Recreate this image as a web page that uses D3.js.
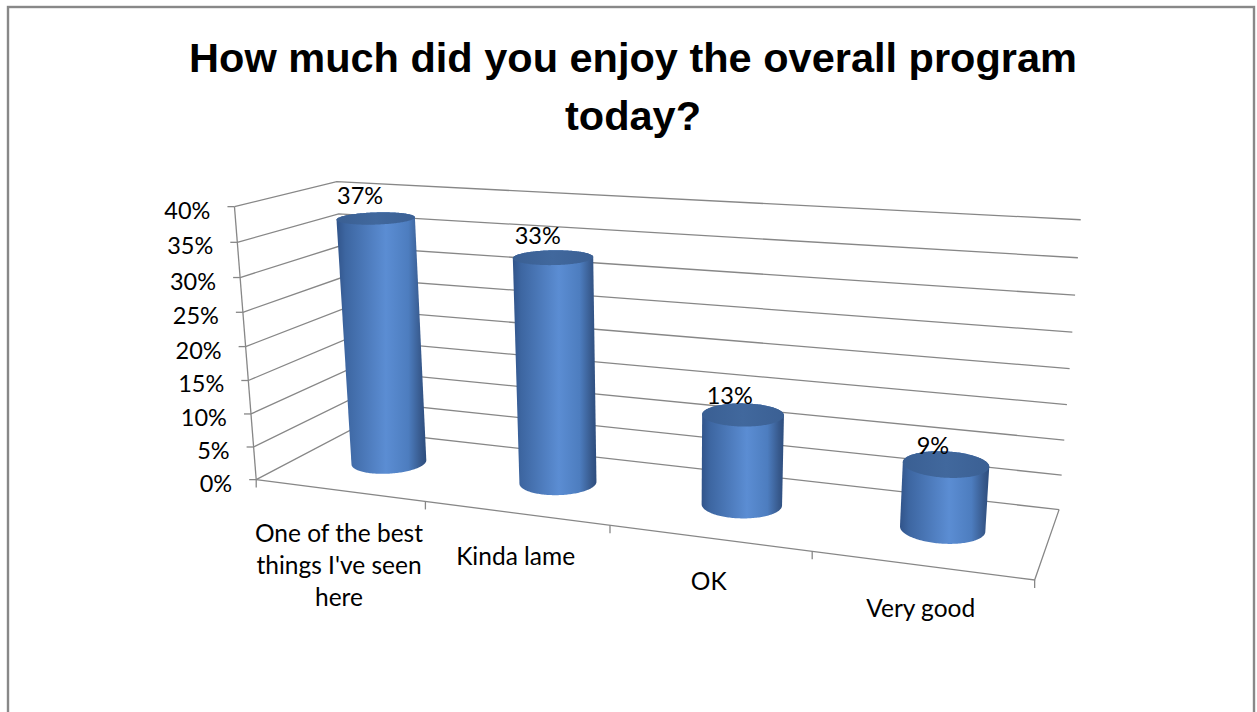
<!DOCTYPE html>
<html>
<head>
<meta charset="utf-8">
<script src="https://cdn.jsdelivr.net/npm/d3@7"></script>
<style>
  html, body { margin: 0; padding: 0; background: #fff; }
  svg { display: block; }
</style>
</head>
<body>
<script>
// ---- data ----
const categories = ["One of the best things I've seen here", "Kinda lame", "OK", "Very good"];
const categoryLines = [["One of the best", "things I've seen", "here"], ["Kinda lame"], ["OK"], ["Very good"]];
const values = [0.37, 0.33, 0.13, 0.09];
const valueLabels = ["37%", "33%", "13%", "9%"];
const yTicks = [0, 0.05, 0.10, 0.15, 0.20, 0.25, 0.30, 0.35, 0.40];
const yTickLabels = ["0%", "5%", "10%", "15%", "20%", "25%", "30%", "35%", "40%"];
const titleLines = ["How much did you enjoy the overall program", "today?"];

// ---- page ----
const W = 1257, H = 712;
const svg = d3.select("body").append("svg").attr("width", W).attr("height", H);

// chart frame
svg.append("rect").attr("x", 8).attr("y", 7).attr("width", 1246).attr("height", 720)
  .attr("fill", "#fff").attr("stroke", "#888").attr("stroke-width", 2.4);

// ---- world scales (unit box: x = categories, y = value, z = depth) ----
const x = d3.scaleBand().domain(categories).range([0, 1]);
const y = d3.scaleLinear().domain([0, 0.4]).range([0, 1]);

// ---- perspective camera, solved from reference points of the plot box ----
const camPts = [
  [[0, 0, 0], [255, 480]], [[0, 1, 0], [236, 206]],
  [[0, 0, 1], [353, 429]], [[0, 1, 1], [335, 183]],
  [[1, 0, 1], [1059, 509]], [[1, 1, 1], [1081, 220]],
  [[1, 0, 0], [1034, 580]], [[0.25, 0, 0], [426, 502]],
  [[0.5, 0, 0], [610, 526]], [[0.75, 0, 0], [812, 552]],
  [[1, 0.5, 1], [1070, 368]], [[0, 0.5, 0], [245.5, 345]]
];
function solveLinear(A, b) {
  const n = b.length, M = A.map((r, i) => r.concat([b[i]]));
  for (let c = 0; c < n; c++) {
    let p = c;
    for (let r = c + 1; r < n; r++) if (Math.abs(M[r][c]) > Math.abs(M[p][c])) p = r;
    [M[c], M[p]] = [M[p], M[c]];
    for (let r = 0; r < n; r++) {
      if (r === c) continue;
      const f = M[r][c] / M[c][c];
      for (let k = c; k <= n; k++) M[r][k] -= f * M[c][k];
    }
  }
  return M.map((r, i) => r[n] / r[i]);
}
const cam = (() => {
  const rows = [], rhs = [];
  camPts.forEach(([[X, Y, Z], [u, v]]) => {
    rows.push([X, Y, Z, 1, 0, 0, 0, 0, -u * X, -u * Y, -u * Z]); rhs.push(u);
    rows.push([0, 0, 0, 0, X, Y, Z, 1, -v * X, -v * Y, -v * Z]); rhs.push(v);
  });
  const AtA = d3.range(11).map(i => d3.range(11).map(j => d3.sum(rows, r => r[i] * r[j])));
  const Atb = d3.range(11).map(i => d3.sum(rows, (r, k) => r[i] * rhs[k]));
  return solveLinear(AtA, Atb);
})();
function proj(X, Y, Z) {
  const w = cam[8] * X + cam[9] * Y + cam[10] * Z + 1;
  return [(cam[0] * X + cam[1] * Y + cam[2] * Z + cam[3]) / w,
          (cam[4] * X + cam[5] * Y + cam[6] * Z + cam[7]) / w];
}
const line = d3.line();
const gridColor = "#878787";

// ---- title ----
svg.append("text")
  .attr("x", 633).attr("y", 72)
  .attr("text-anchor", "middle")
  .style("font-family", "'Liberation Sans', Arial, sans-serif")
  .style("font-weight", "bold").style("font-size", "41.5px").attr("fill", "#000")
  .selectAll("tspan").data(titleLines).join("tspan")
  .attr("x", 633).attr("dy", (d, i) => i ? 58 : 0).text(d => d);

// ---- walls: gridlines on side and back walls ----
const grid = svg.append("g").attr("fill", "none").attr("stroke", gridColor).attr("stroke-width", 1.3);
yTicks.forEach(t => {
  const Y = y(t);
  grid.append("path").attr("d", line([proj(0, Y, 0), proj(0, Y, 1), proj(1, Y, 1)]));
});
// floor outline
grid.append("path").attr("d", line([proj(0, 0, 0), proj(1, 0, 0), proj(1, 0, 1)]));
// value axis line
grid.append("path").attr("d", line([proj(0, 0, 0), proj(0, 1, 0)]));
// value axis ticks
yTicks.forEach(t => {
  const p = proj(0, y(t), 0);
  grid.append("path").attr("d", line([[p[0] - 7, p[1]], p]));
});
// category axis ticks at band edges
d3.range(categories.length + 1).forEach(i => {
  const p = proj(i / categories.length, 0, 0);
  grid.append("path").attr("d", line([p, [p[0], p[1] + 8]]));
});

const labelFont = "Lato, 'Open Sans', sans-serif";
// value axis labels
svg.append("g").selectAll("text").data(yTicks).join("text")
  .attr("x", t => proj(0, y(t), 0)[0] - 24)
  .attr("y", t => proj(0, y(t), 0)[1] + 3)
  .attr("text-anchor", "end").attr("dominant-baseline", "central")
  .style("font-family", labelFont).style("font-size", "23.5px").attr("fill", "#000")
  .text((t, i) => yTickLabels[i]);

// ---- cylinders ----
const defs = svg.append("defs");
const body = defs.append("linearGradient").attr("id", "cylBody").attr("x1", 0).attr("x2", 1).attr("y1", 0).attr("y2", 0);
[[0, "#31548a"], [0.1, "#3d66a1"], [0.55, "#5b8dd3"], [0.8, "#4d7dbf"], [0.94, "#37598c"], [1, "#2d4d7e"]]
  .forEach(([o, c]) => body.append("stop").attr("offset", o).attr("stop-color", c));
const topGrad = defs.append("linearGradient").attr("id", "cylTop").attr("x1", 0).attr("x2", 1).attr("y1", 0).attr("y2", 0);
[[0, "#3a5f93"], [0.5, "#41689d"], [1, "#3b6094"]]
  .forEach(([o, c]) => topGrad.append("stop").attr("offset", o).attr("stop-color", c));

const depth = 0.52;              // column row sits about midway in depth
const rX = x.bandwidth() * 0.2;  // radius along category axis
const rZ = 0.21;                 // radius along depth axis
const angles = d3.range(0, 2 * Math.PI, Math.PI / 90);

const cyl = svg.append("g");
categories.forEach((c, i) => {
  const cx = x(c) + x.bandwidth() / 2 + 0.002;
  const Y = y(values[i]);
  const bottom = angles.map(a => proj(cx + rX * Math.cos(a), 0, depth + rZ * Math.sin(a)));
  const top = angles.map(a => proj(cx + rX * Math.cos(a), Y, depth + rZ * Math.sin(a)));
  const hull = d3.polygonHull(bottom.concat(top));
  cyl.append("path").attr("d", line(hull) + "Z").attr("fill", "url(#cylBody)");
  cyl.append("path").attr("d", line(top) + "Z").attr("fill", "url(#cylTop)");

  // data label above the column top
  const tc = proj(cx, Y, depth);
  const v = values[i] * 100;
  svg.append("text")
    .attr("x", tc[0] - (12 + 0.1 * v))
    .attr("y", tc[1] - (8.7 + 0.14 * v))
    .attr("text-anchor", "middle")
    .style("font-family", labelFont).style("font-size", "23.5px").attr("fill", "#000")
    .text(valueLabels[i]);
});

// ---- category labels ----
categories.forEach((c, i) => {
  const p = proj(x(c) + x.bandwidth() / 2, 0, 0);
  svg.append("text")
    .attr("text-anchor", "middle")
    .style("font-family", labelFont).style("font-size", "24.5px").attr("fill", "#000")
    .selectAll("tspan").data(categoryLines[i]).join("tspan")
    .attr("x", p[0]).attr("y", (d, k) => p[1] + 52 + 32 * k).text(d => d);
});
</script>
</body>
</html>
